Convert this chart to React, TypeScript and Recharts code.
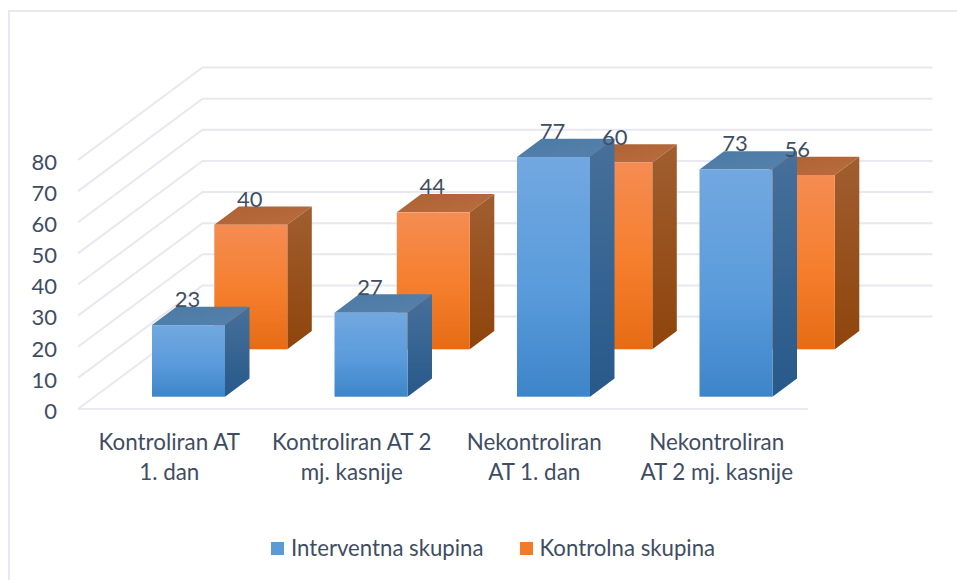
import React from 'react';
import { BarChart, Bar, XAxis, YAxis, CartesianGrid, Legend, LabelList } from 'recharts';

const categories = ['Kontroliran AT 1. dan', 'Kontroliran AT 2 mj. kasnije', 'Nekontroliran AT 1. dan', 'Nekontroliran AT 2 mj. kasnije'];
const categoryLines = [
  ['Kontroliran AT', '1. dan'],
  ['Kontroliran AT 2', 'mj. kasnije'],
  ['Nekontroliran', 'AT 1. dan'],
  ['Nekontroliran', 'AT 2 mj. kasnije'],
];
const interventna = [23, 27, 77, 73];
const kontrolna = [40, 44, 60, 56];
const yTicks = [0, 10, 20, 30, 40, 50, 60, 70, 80];

const data = categories.map((name, i) => ({ name, interventna: interventna[i], kontrolna: kontrolna[i] }));

const FONT = 'Lato, "Open Sans", sans-serif';
const TEXT = '#3f4d63';
const GRID = '#e8e8f0';
const WALL_DX = 124.5;
const WALL_DY = -92.5;
const BAR_W = 73;
const BAR_DX = 24.5;
const BAR_DY = -18.3;
const BLUE_SHIFT = { x: 19, y: -12.3 };
const ORANGE_SHIFT = { x: 81.3, y: -59.7 };

const makeBar = (shift: { x: number; y: number }, id: string) => (props: any) => {
  const x = props.x + shift.x;
  const y = props.y + shift.y;
  const w = props.width;
  const h = props.height;
  return (
    <g>
      <polygon points={`${x},${y} ${x + BAR_DX},${y + BAR_DY} ${x + w + BAR_DX},${y + BAR_DY} ${x + w},${y}`} fill={`url(#${id}Top)`} />
      <polygon points={`${x + w},${y} ${x + w + BAR_DX},${y + BAR_DY} ${x + w + BAR_DX},${y + h + BAR_DY} ${x + w},${y + h}`} fill={`url(#${id}Side)`} />
      <rect x={x} y={y} width={w} height={h} fill={`url(#${id}Front)`} />
    </g>
  );
};

const BlueBar = makeBar(BLUE_SHIFT, 'blue');
const OrangeBar = makeBar(ORANGE_SHIFT, 'orange');

const makeLabel = (shift: { x: number; y: number }) => (props: any) => (
  <text
    x={props.x + shift.x + props.width / 2 - 1}
    y={props.y + shift.y - 18}
    textAnchor="middle"
    fontFamily={FONT}
    fontSize={22}
    fill={TEXT}
  >
    {props.value}
  </text>
);

const gridLine = (props: any) => {
  const { x1, x2, y1 } = props;
  return (
    <polyline
      key={props.key ?? y1}
      points={`${x1},${y1} ${x1 + WALL_DX},${y1 + WALL_DY} ${x2 + WALL_DX},${y1 + WALL_DY}`}
      fill="none"
      stroke={GRID}
      strokeWidth={2}
    />
  );
};

const CategoryTick = (props: any) => {
  const lines = categoryLines[props.payload.index] ?? [props.payload.value];
  return (
    <text textAnchor="middle" fontFamily={FONT} fontSize={22.4} fill={TEXT}>
      {lines.map((line: string, i: number) => (
        <tspan key={line} x={props.x} y={props.y + 33 + i * 30}>
          {line}
        </tspan>
      ))}
    </text>
  );
};

const LegendContent = (props: any) => (
  <div style={{ display: 'flex', paddingLeft: 271, fontFamily: FONT, fontSize: 22.2, color: TEXT, lineHeight: '28px' }}>
    {(props.payload ?? [])
      .filter((item: any) => item.type !== 'none')
      .map((item: any) => (
        <div key={item.value} style={{ display: 'flex', alignItems: 'center', marginRight: 36 }}>
          <span style={{ width: 13, height: 13, background: item.color, marginRight: 7 }} />
          <span>{item.value}</span>
        </div>
      ))}
  </div>
);

export default function App() {
  return (
    <div style={{ position: 'absolute', left: 0, top: 0, width: 957, height: 580, background: '#fff', overflow: 'hidden' }}>
      <div style={{ position: 'absolute', left: 8, top: 10, width: 960, height: 580, border: `2px solid ${GRID}` }} />
      <BarChart
        width={957}
        height={580}
        data={data}
        margin={{ top: 160, right: 149, bottom: 0, left: 0 }}
        barSize={BAR_W}
        barGap={-BAR_W}
        style={{ position: 'absolute', left: 0, top: 0 }}
      >
        <defs>
          <linearGradient id="blueFront" x1="0" y1="0" x2="0" y2="1">
            <stop offset="0" stopColor="#72a8e0" />
            <stop offset="0.55" stopColor="#5a9bdb" />
            <stop offset="1" stopColor="#3d85c9" />
          </linearGradient>
          <linearGradient id="blueSide" x1="0" y1="0" x2="0" y2="1">
            <stop offset="0" stopColor="#47709a" />
            <stop offset="1" stopColor="#27598a" />
          </linearGradient>
          <linearGradient id="blueTop" x1="0" y1="0" x2="1" y2="1">
            <stop offset="0" stopColor="#4a7aa5" />
            <stop offset="1" stopColor="#5682ac" />
          </linearGradient>
          <linearGradient id="orangeFront" x1="0" y1="0" x2="0" y2="1">
            <stop offset="0" stopColor="#f58c52" />
            <stop offset="0.55" stopColor="#f57e2c" />
            <stop offset="1" stopColor="#e66b14" />
          </linearGradient>
          <linearGradient id="orangeSide" x1="0" y1="0" x2="0" y2="1">
            <stop offset="0" stopColor="#a05e30" />
            <stop offset="1" stopColor="#8f440c" />
          </linearGradient>
          <linearGradient id="orangeTop" x1="0" y1="0" x2="1" y2="1">
            <stop offset="0" stopColor="#ad6234" />
            <stop offset="1" stopColor="#ba6c3e" />
          </linearGradient>
        </defs>
        <CartesianGrid horizontal={gridLine} vertical={false} />
        <XAxis
          dataKey="name"
          interval={0}
          height={143}
          axisLine={{ stroke: GRID, strokeWidth: 2 }}
          tickLine={false}
          tick={CategoryTick}
        />
        <YAxis
          width={78}
          domain={[0, 80]}
          ticks={yTicks}
          interval={0}
          axisLine={false}
          tickLine={false}
          tickMargin={15}
          tick={{ fontFamily: FONT, fontSize: 22, fill: TEXT, dy: 2 }}
        />
        <Legend
          verticalAlign="bottom"
          content={LegendContent}
          wrapperStyle={{ left: 0, bottom: 'auto', top: 534, width: 957, height: 28 }}
        />
        <Bar dataKey="kontrolna" name="Kontrolna skupina" fill="#f37a26" shape={OrangeBar} isAnimationActive={false} />
        <Bar dataKey="interventna" name="Interventna skupina" fill="#5b9bd5" shape={BlueBar} isAnimationActive={false}>
          <LabelList dataKey="interventna" content={makeLabel(BLUE_SHIFT)} />
        </Bar>
        <Bar dataKey="kontrolna" legendType="none" fill="none" shape={() => <g />} isAnimationActive={false}>
          <LabelList dataKey="kontrolna" content={makeLabel(ORANGE_SHIFT)} />
        </Bar>
      </BarChart>
    </div>
  );
}
